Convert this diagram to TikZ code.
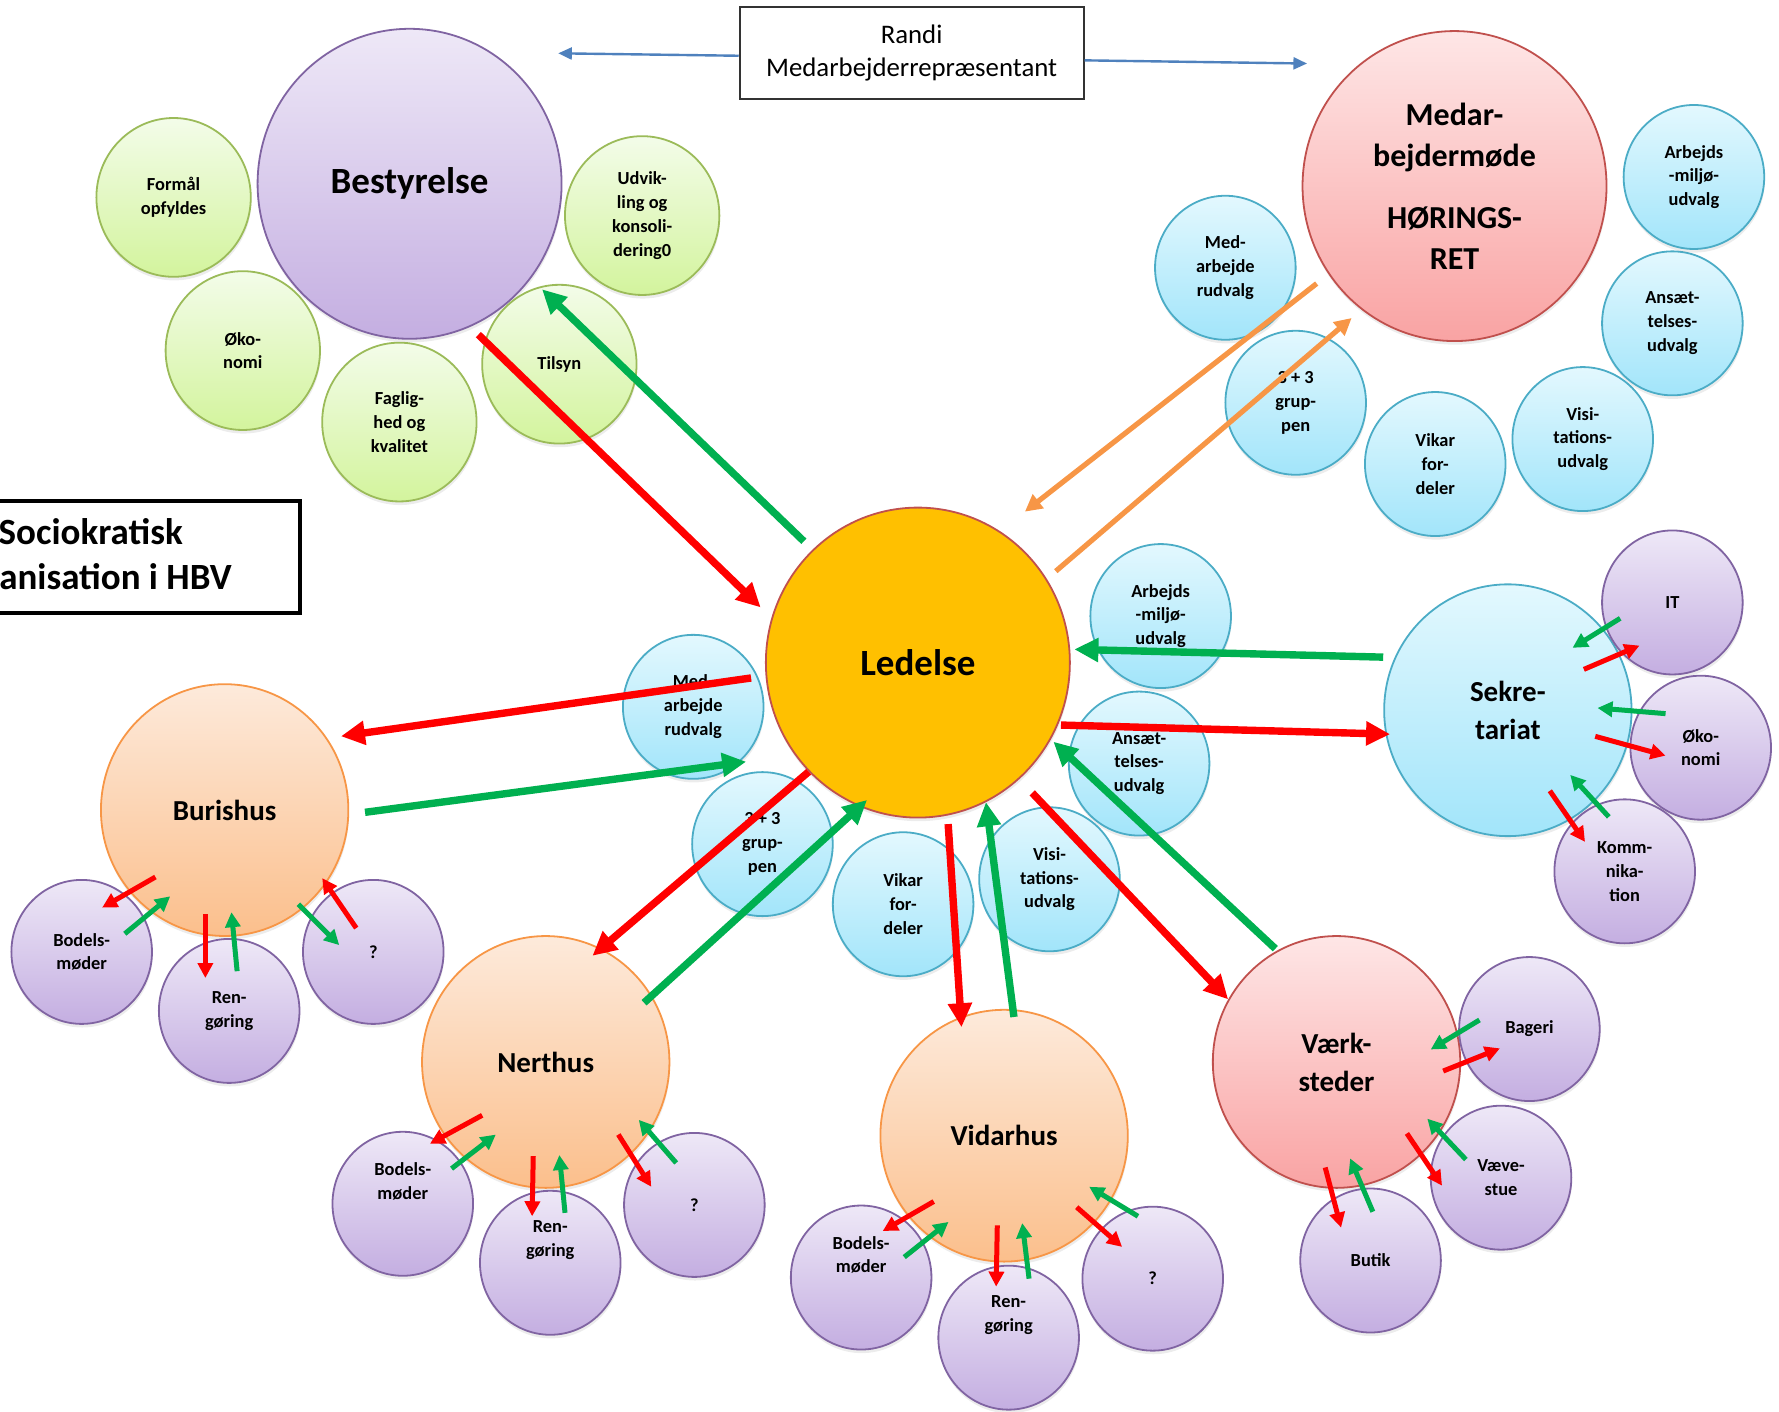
\documentclass[tikz,border=0pt]{standalone}
\usepackage{fontspec}
\setmainfont{Carlito}
\usetikzlibrary{shapes.geometric,arrows.meta,shadows}
\definecolor{purB}{HTML}{8064A2}
\definecolor{purT}{HTML}{EEE8F7}
\definecolor{purBot}{HTML}{C4AEE1}
\definecolor{grnB}{HTML}{9BBB59}
\definecolor{grnT}{HTML}{F3FCE9}
\definecolor{grnBot}{HTML}{D3F49D}
\definecolor{bluB}{HTML}{4BACC6}
\definecolor{bluT}{HTML}{E3F8FE}
\definecolor{bluBot}{HTML}{A2E5FA}
\definecolor{pnkB}{HTML}{C0504D}
\definecolor{pnkT}{HTML}{FEE6E6}
\definecolor{pnkBot}{HTML}{F9A3A3}
\definecolor{orgB}{HTML}{F79646}
\definecolor{orgT}{HTML}{FDEADB}
\definecolor{orgBot}{HTML}{FBBF8C}
\definecolor{ledF}{HTML}{FFC000}
\definecolor{ledB}{HTML}{C0504D}
\definecolor{arrR}{HTML}{FF0000}
\definecolor{arrG}{HTML}{00B050}
\definecolor{arrO}{HTML}{F79646}
\definecolor{arrB}{HTML}{4F81BD}
\newcommand\txtS{\fontsize{9.2}{11.9}\selectfont\bfseries}
\newcommand\txtM{\fontsize{14.5}{19}\selectfont\bfseries}
\newcommand\txtMed{\fontsize{16}{20.4}\selectfont\bfseries}
\newcommand\txtL{\fontsize{18.5}{22.7}\selectfont\bfseries}
\newcommand\sarr[4]{\coordinate (#1a) at (#3); \coordinate (#1b) at (#4); \draw[#2] (#1a) -- (#1b);}
\tikzset{
 ell/.style={ellipse, inner sep=0pt, line width=0.9pt, align=center, drop shadow={opacity=0.15, shadow xshift=0.3pt, shadow yshift=-1.8pt}},
 bigell/.style={ell, minimum width=152pt, minimum height=155pt},
 houseell/.style={ell, minimum width=123.7pt, minimum height=125.9pt, font=\txtM},
 grnell/.style={ell, minimum width=77.2pt, minimum height=79.4pt, draw=grnB, top color=grnT, bottom color=grnBot, font=\txtS},
 blueell/.style={ell, minimum width=70.3pt, minimum height=72pt, draw=bluB, top color=bluT, bottom color=bluBot, font=\txtS},
 purell/.style={ell, minimum width=70.3pt, minimum height=72pt, draw=purB, top color=purT, bottom color=purBot, font=\txtS},
 orghouse/.style={houseell, draw=orgB, top color=orgT, bottom color=orgBot},
 lbl/.style={font=\txtS, align=center, inner sep=0pt},
 upt/.style={label={[lbl, yshift=11.3pt]center:#1}},
 bigR/.style={draw=arrR, line width=3.7pt, -{Triangle[length=12pt,width=11.5pt]}},
 bigG/.style={draw=arrG, line width=3.7pt, -{Triangle[length=12pt,width=11.5pt]}},
 smR/.style={draw=arrR, line width=2.5pt, -{Triangle[length=7.5pt,width=7.5pt]}},
 smG/.style={draw=arrG, line width=2.5pt, -{Triangle[length=7.5pt,width=7.5pt]}},
 orgA/.style={draw=arrO, line width=2.6pt, -{Triangle[length=8.5pt,width=8.5pt]}},
 bluA/.style={draw=arrB, line width=1.2pt, -{Triangle[length=6.8pt,width=6pt]}},
}
\begin{document}
\begin{tikzpicture}[x=0.5673pt,y=-0.5673pt]
\useasboundingbox (0,0) rectangle (1568,1244);
\clip (0,0) rectangle (1568,1244);

% --- Bestyrelse group
\node[bigell, draw=purB, top color=purT, bottom color=purBot, font=\txtL] (best) at (361,162) {Bestyrelse};
\node[grnell] (gfor) at (153,174) {Formål\\opfyldes};
\node[grnell] (gok) at (214,309) {Øko-\\nomi};
\node[grnell] (gfag) at (352,372) {Faglig-\\hed og\\kvalitet};
\node[grnell] (gtil) at (493,321) {Tilsyn};
\node[grnell] (gudv) at (566,190) {Udvik-\\ling og\\konsoli-\\dering0};

% --- Medarbejdermøde group
\node[bigell, draw=pnkB, top color=pnkT, bottom color=pnkBot, font=\txtMed] (med) at (1282,164) {Medar-\\bejdermøde\\[10.8pt]HØRINGS-\\RET};
\node[blueell] (bmed1) at (1080,236) {Med-\\arbejde\\rudvalg};
\node[blueell] (b331) at (1142,355) {3 + 3\\grup-\\pen};
\node[blueell] (bvik1) at (1265,409) {Vikar\\for-\\deler};
\node[blueell] (bvis1) at (1395,387) {Visi-\\tations-\\udvalg};
\node[blueell] (bans1) at (1474,285) {Ansæt-\\telses-\\udvalg};
\node[blueell] (barb1) at (1493,156) {Arbejds\\-miljø-\\udvalg};

% --- Ledelse group
\node[blueell] (barb2) at (1023,543) {Arbejds\\-miljø-\\udvalg};
\node[blueell] (bans2) at (1004,673) {Ansæt-\\telses-\\udvalg};
\node[blueell] (bvis2) at (925,775) {Visi-\\tations-\\udvalg};
\node[blueell] (bvik2) at (796,797) {Vikar\\for-\\deler};
\node[blueell] (b332) at (672,744) {3 + 3\\grup-\\pen};
\node[blueell] (bmed2) at (611,623) {Med-\\arbejde\\rudvalg};
\node[bigell, draw=ledB, fill=ledF, font=\txtL] (led) at (809,584) {Ledelse};

% --- title boxes
\node[draw=black!80, line width=1pt, minimum width=171.9pt, minimum height=46pt, align=center, inner sep=0pt, font=\fontsize{13.4}{16.5}\selectfont] (randi) at (803.5,46.5) {Randi\\Medarbejderrepræsentant};
\node[draw=black, line width=2pt, minimum width=208.8pt, minimum height=55.6pt, align=center, inner sep=0pt, font=\txtL] (socio) at (80,491) {Sociokratisk\\organisation i HBV};

% --- Sekretariat
\node[houseell, draw=bluB, top color=bluT, bottom color=bluBot] (sek) at (1329,626) {Sekre-\\tariat};
\node[purell] (pit) at (1474,531) {IT};
\node[purell] (pok) at (1499,659) {Øko-\\nomi};
\node[purell] (pkom) at (1432,768) {Komm-\\nika-\\tion};

% --- Burishus
\node[orghouse] (bur) at (198,714) {Burishus};
\node[purell] (bubod) at (72,839) {Bodels-\\møder};
\node[purell] (buren) at (202,891) {Ren-\\gøring};
\node[purell] (buq) at (329,839) {?};

% --- Nerthus
\node[orghouse] (ner) at (481,936) {Nerthus};
\node[purell, upt={Bodels-\\møder}] (nebod) at (355,1061) {};
\node[purell, upt={Ren-\\gøring}] (neren) at (485,1113) {};
\node[purell] (neq) at (612,1062) {?};

% --- Vidarhus
\node[orghouse] (vid) at (885,1001) {Vidarhus};
\node[purell, upt={Bodels-\\møder}] (vibod) at (759,1126) {};
\node[purell, upt={Ren-\\gøring}] (viren) at (889,1179) {};
\node[purell] (viq) at (1016,1127) {?};

% --- Værksteder
\node[houseell, draw=pnkB, top color=pnkT, bottom color=pnkBot] (vaerk) at (1178,936) {Værk-\\steder};
\node[purell] (vabag) at (1348,907) {Bageri};
\node[purell] (vavae) at (1323,1038) {Væve-\\stue};
\node[purell] (vabut) at (1208,1111) {Butik};

% --- blue arrows from Randi
\coordinate (bestTip) at (492,47);
\coordinate (medTip) at (1152,56);
\draw[bluA] ([yshift=-1.5pt]randi.west) -- (bestTip);
\draw[bluA] ([yshift=-3.8pt]randi.east) -- (medTip);

% --- orange arrows
\draw[orgA, shorten <=7.5pt, shorten >=15.8pt] (med.215.2) -- (led.58);
\draw[orgA, shorten <=5.9pt, shorten >=6.4pt] (led.33.5) -- (med.233.3);

% --- big arrows
\draw[bigR, shorten <=5.6pt, shorten >=7.5pt] (best.-67.1) -- (led.163);
\draw[bigG, shorten <=6pt, shorten >=7.7pt] (led.133.3) -- (best.-38.7);
\draw[bigR, shorten <=7.3pt, shorten >=6.9pt] (led.185.9) -- (bur.35.6);
\draw[bigG, shorten <=8pt, shorten >=24.6pt] (bur.-2.3) -- (led.217.5);
\draw[bigR, shorten >=-5.7pt] (led.225.3) -- (ner.64.7);
\draw[bigG, shorten <=-5.3pt, shorten >=-5pt] (ner.32) -- (led.248.3);
\draw[bigR, shorten <=4.3pt, shorten >=-5.2pt] (led.-79.6) -- (vid.110.8);
\draw[bigG, shorten <=-3.9pt] (vid.86.1) -- (led.-64.6);
\draw[bigR, shorten <=9.4pt] (led.-49.3) -- (vaerk.150.1);
\draw[bigG, shorten <=1.3pt, shorten >=1.7pt] (vaerk.118.6) -- (led.-30.1);
\draw[bigG, shorten <=5.7pt, shorten >=2.1pt] (sek.155.6) -- (led.5.8);
\draw[bigR, shorten <=1.5pt, shorten >=-2.3pt] (led.-24.1) -- (sek.191.6);

% --- small arrows: Burishus
\sarr{bu1}{smR}{137,773}{90,800}
\sarr{bu2}{smG}{110,823}{150,790}
\sarr{bu3}{smR}{181,806}{181,862}
\sarr{bu4}{smG}{209,856}{204,804}
\sarr{bu5}{smG}{263,797}{299,833}
\sarr{bu6}{smR}{314,818}{284,774}
% Nerthus
\sarr{ne1}{smR}{425,983}{379,1008}
\sarr{ne2}{smG}{398,1030}{437,1000}
\sarr{ne3}{smR}{470,1019}{469,1072}
\sarr{ne4}{smG}{498,1069}{493,1018}
\sarr{ne5}{smR}{545,1000}{574,1046}
\sarr{ne6}{smG}{596,1025}{563,987}
% Vidarhus
\sarr{vi1}{smR}{823,1059}{778,1085}
\sarr{vi2}{smG}{797,1108}{836,1077}
\sarr{vi3}{smR}{879,1080}{878,1134}
\sarr{vi4}{smG}{907,1127}{901,1078}
\sarr{vi5}{smR}{949,1064}{989,1099}
\sarr{vi6}{smG}{1003,1072}{960,1046}
% Vaerksteder
\sarr{va1}{smG}{1304,899}{1261,925}
\sarr{va2}{smR}{1272,944}{1322,924}
\sarr{va3}{smG}{1292,1022}{1258,986}
\sarr{va4}{smR}{1240,999}{1271,1045}
\sarr{va5}{smR}{1168,1029}{1182,1082}
\sarr{va6}{smG}{1210,1068}{1190,1021}
% Sekretariat
\sarr{se1}{smG}{1428,545}{1386,571}
\sarr{se2}{smR}{1396,590}{1445,569}
\sarr{se3}{smG}{1468,629}{1408,624}
\sarr{se4}{smR}{1406,649}{1468,666}
\sarr{se5}{smG}{1418,720}{1384,683}
\sarr{se6}{smR}{1366,697}{1397,742}
\end{tikzpicture}
\end{document}
